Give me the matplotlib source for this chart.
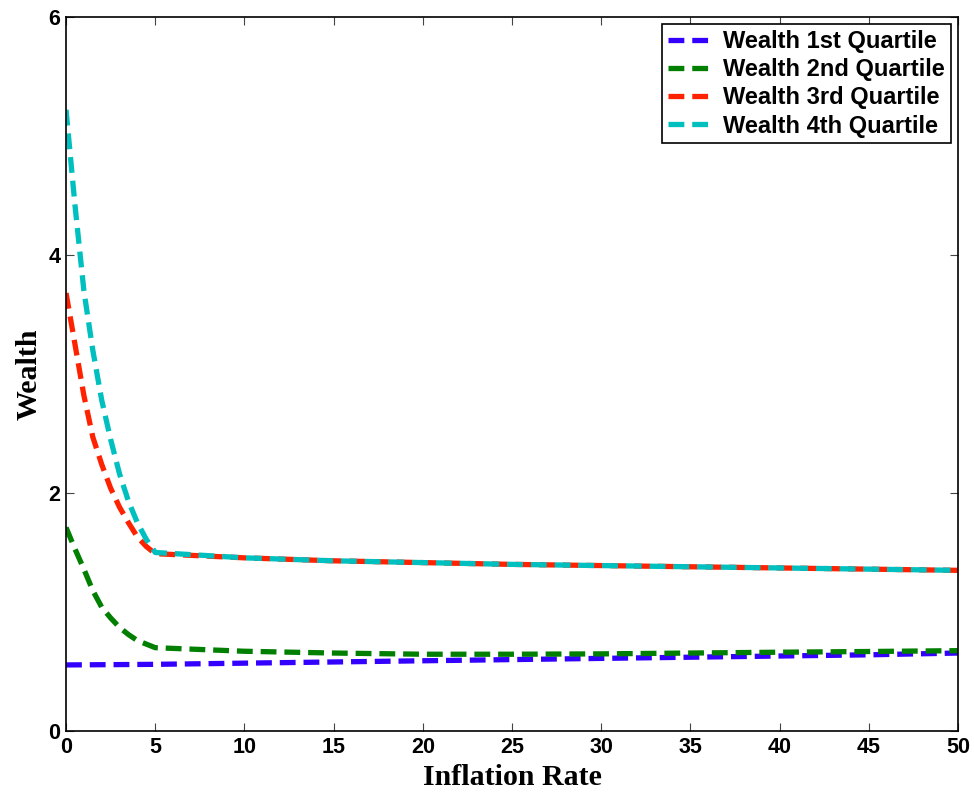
import matplotlib
matplotlib.use("Agg")
import matplotlib.pyplot as plt

# inflation rates for the steep part and the flat part
x_low = [0, 0.5, 1, 1.5, 2, 2.5, 3, 3.5, 4, 4.5, 5]
x_high = [10, 15, 20, 25, 30, 35, 40, 45, 50]
x_q1 = [0, 5, 10, 15, 20, 25, 30, 35, 40, 45, 50]

q1 = [0.555, 0.56, 0.57, 0.58, 0.59, 0.60, 0.61, 0.62, 0.63, 0.64, 0.655]
q2_low = [1.71, 1.53, 1.36, 1.18, 1.04, 0.95, 0.87, 0.81, 0.76, 0.73, 0.70]
q2_high = [0.67, 0.655, 0.645, 0.645, 0.648, 0.655, 0.662, 0.668, 0.675]
q3_low = [3.68, 3.25, 2.82, 2.47, 2.24, 2.04, 1.88, 1.75, 1.63, 1.55, 1.49]
q3_high = [1.455, 1.43, 1.415, 1.40, 1.39, 1.38, 1.37, 1.36, 1.35]
q4_low = [5.22, 4.42, 3.70, 3.20, 2.78, 2.45, 2.16, 1.93, 1.75, 1.61, 1.50]
q4_high = [1.455, 1.43, 1.415, 1.40, 1.39, 1.38, 1.37, 1.36, 1.35]

labels = ["Wealth 1st Quartile", "Wealth 2nd Quartile", "Wealth 3rd Quartile", "Wealth 4th Quartile"]
colors = ["#3300ff", "#007f00", "#ff2200", "#00bfbf"]
xticks = list(range(0, 55, 5))
yticks = [0, 2, 4, 6]

series = [
    (x_q1, q1),
    (x_low + x_high, q2_low + q2_high),
    (x_low + x_high, q3_low + q3_high),
    (x_low + x_high, q4_low + q4_high),
]

fig = plt.figure(figsize=(9.74, 7.93), dpi=100)
ax = fig.add_axes([0.0678, 0.0782, 0.9158, 0.9004])
for (xs, ys), lab, c in zip(series, labels, colors):
    ax.plot(xs, ys, color=c, lw=3.8, dashes=(3.0, 1.5), label=lab,
            dash_capstyle='butt', dash_joinstyle='round')

ax.set_xlim(0, 50)
ax.set_ylim(0, 6)
ax.set_xticks(xticks)
ax.set_yticks(yticks)
ax.tick_params(direction='in', top=True, right=True, length=6, width=0.8,
               labelsize=15.5, pad=4, color='#444444')
for t in ax.get_xticklabels() + ax.get_yticklabels():
    t.set_fontfamily('Liberation Sans')
    t.set_fontweight('bold')
for s in ax.spines.values():
    s.set_linewidth(1.2)

ax.set_xlabel("Inflation Rate", fontsize=21.5, fontweight='bold', family='Liberation Serif')
ax.xaxis.set_label_coords(0.5, -0.065)
ax.xaxis.label.set_verticalalignment('center')
ax.set_ylabel("Wealth", fontsize=21.5, fontweight='bold', family='Liberation Serif', labelpad=4)

leg = ax.legend(loc='upper right', prop={'family': 'Liberation Sans', 'weight': 'bold', 'size': 17},
                frameon=True, fancybox=False, edgecolor='black', handlelength=2.0,
                borderaxespad=0.3, labelspacing=0.22, handletextpad=0.35, borderpad=0.25,
                framealpha=1)
leg.get_frame().set_linewidth(1.2)

fig.savefig("out.png", dpi=100)
